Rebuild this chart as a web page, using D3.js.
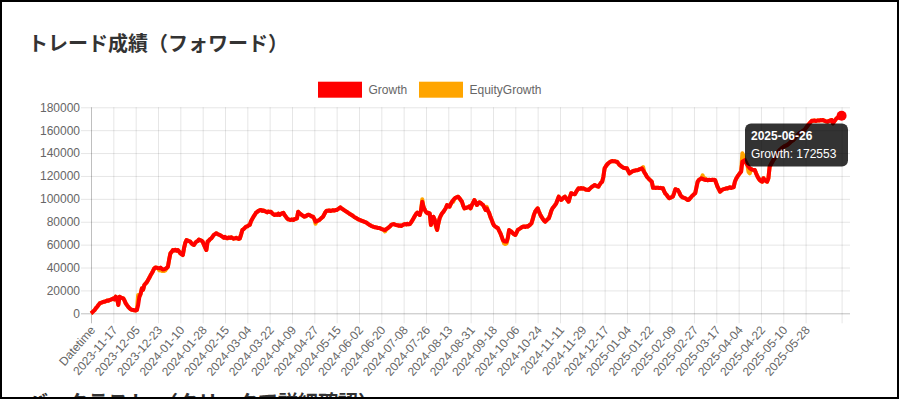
<!DOCTYPE html>
<html><head><meta charset="utf-8">
<script src="https://cdn.jsdelivr.net/npm/d3@7"></script>
<style>
html,body{margin:0;padding:0;background:#fff;}
svg{display:block;}
</style>
</head><body>
<svg id="chart" width="900" height="399"></svg>
<script>
// ---------- data ----------
const titleText = "トレード成績（フォワード）";
const nextHeading = "バックテスト　（クリックで詳細確認）";
const seriesNames = ["Growth", "EquityGrowth"];
const seriesColors = ["#ff0000", "#ffa500"];
const headerLabel = "Datetime";
const firstDate = "2023-10-31";
const lastDate = "2025-06-26";
const lastLabeledDate = "2025-05-28";
const labelStride = 18;
const yTicks = [0, 20000, 40000, 60000, 80000, 100000, 120000, 140000, 160000, 180000];

// Growth values in thousands, one per category (index 0 = "Datetime")
const growthK = [
0,0.8,1.9,2.9,4.5,5.8,7.2,8.7,9.2,9.6,
10.1,10.1,10.6,11.2,11.0,11.6,12.0,12.4,13.1,12.2,
14.5,13.0,7.3,14.5,13.8,13.4,13.1,11.2,8.7,7.1,
5.6,4.4,3.5,3.0,2.9,2.6,2.4,2.9,7.3,14.5,
17.0,21.8,20.5,24.7,26.0,27.2,29.1,31.0,33.2,35.0,
37.0,39.3,40.0,39.8,39.5,39.3,39.9,39.0,38.2,38.4,
39.0,39.6,40.7,47.0,52.4,53.6,55.3,54.8,55.5,54.6,
55.3,54.0,52.5,51.5,50.9,57.0,61.5,64.0,63.5,63.0,
62.6,61.0,60.2,59.7,61.5,62.6,63.0,64.5,64.0,63.6,
62.6,60.0,57.5,55.3,62.6,63.5,64.8,65.5,67.0,68.5,
69.2,69.9,69.3,68.8,68.4,67.5,66.9,66.0,66.8,65.8,
65.5,66.2,65.9,66.4,65.8,65.2,65.5,66.0,65.4,65.0,
65.5,69.0,72.8,73.5,74.6,75.7,76.0,76.8,77.2,80.5,
82.5,84.4,86.0,87.9,88.6,89.5,90.0,90.3,89.5,89.9,
89.2,88.8,88.2,89.0,88.5,88.8,87.5,86.5,85.9,86.4,
86.0,87.0,85.9,86.8,87.4,87.9,85.9,84.5,83.0,82.1,
81.8,81.6,82.0,81.5,82.2,82.6,83.0,88.8,87.5,86.6,
85.9,85.0,84.4,84.8,85.5,86.2,85.9,85.3,84.6,84.4,
82.5,80.0,80.6,81.0,81.5,82.5,83.5,84.4,86.5,88.5,
89.7,89.5,89.9,89.4,89.7,90.0,89.8,90.2,90.3,91.0,
91.8,92.6,91.5,90.9,90.2,89.4,88.8,88.0,87.3,86.5,
85.9,85.2,84.3,83.6,83.0,82.4,81.8,81.4,80.9,80.6,
80.0,79.6,79.2,78.4,77.6,77.0,76.3,75.8,75.5,75.1,
75.0,74.6,74.5,74.3,73.8,73.4,73.0,72.8,73.5,74.3,
75.1,76.0,77.2,77.6,78.0,77.5,77.2,77.0,76.5,76.8,
76.3,76.9,77.5,78.0,77.6,78.2,77.8,78.0,79.5,81.2,
83.0,85.0,86.8,87.9,87.0,85.9,90.0,97.5,93.1,90.5,
88.6,87.4,87.8,87.4,77.2,80.5,84.4,82.0,76.5,72.8,
78.5,83.0,85.5,87.4,88.6,90.3,92.0,94.6,93.8,93.1,
95.5,97.5,99.0,100.2,101.0,101.5,101.9,100.5,99.0,97.5,
94.0,91.7,92.0,92.4,92.6,93.5,91.7,94.6,96.5,99.0,
97.0,94.6,95.8,97.0,96.5,95.5,94.6,92.5,90.3,91.7,
89.5,87.4,84.0,81.5,78.5,76.5,75.7,75.0,74.3,72.0,
69.9,67.0,64.0,63.0,62.8,62.6,66.0,72.8,72.0,71.3,
70.0,69.0,68.4,70.5,72.8,73.5,74.2,75.0,75.7,75.9,
75.4,76.0,75.7,76.6,77.5,78.6,82.0,86.0,88.8,90.5,
91.7,89.0,86.5,84.4,82.8,81.2,80.0,81.0,82.2,83.0,
86.0,89.5,91.8,93.1,94.5,96.1,99.0,101.9,100.5,99.0,
100.0,101.2,101.9,100.5,99.0,97.5,101.5,104.9,104.5,104.2,
104.0,106.0,107.8,109.2,108.8,109.4,108.9,109.2,108.5,108.0,
107.9,107.7,108.8,109.8,110.6,111.4,112.1,111.5,111.0,110.6,
112.5,114.0,115.0,119.4,126.7,128.5,130.0,131.1,132.0,132.6,
133.1,132.8,132.9,132.5,132.5,131.0,129.6,128.8,128.0,127.2,
127.0,126.8,126.7,124.5,122.3,123.0,123.8,124.3,124.6,124.9,
125.0,125.2,125.8,126.3,126.7,125.0,123.2,121.5,119.4,118.2,
117.0,116.0,115.0,109.7,109.9,109.5,109.8,109.7,109.4,109.6,
109.3,109.2,106.5,104.5,103.4,101.8,100.5,100.8,101.5,101.9,
105.0,108.4,108.0,107.7,106.0,103.5,101.9,101.2,100.8,100.5,
99.6,99.0,99.4,100.6,101.9,103.0,104.0,104.9,110.0,115.0,
116.5,117.3,118.0,117.5,117.0,116.5,116.8,116.3,116.6,116.5,
116.4,116.8,116.6,116.5,113.5,110.6,108.5,106.3,107.2,108.0,
108.4,108.8,109.2,109.0,109.6,110.1,109.5,110.0,110.1,115.0,
117.5,119.4,121.0,122.5,123.7,132.5,133.2,133.9,131.5,129.6,
128.0,126.7,126.0,125.5,125.3,125.2,122.5,120.0,118.0,116.5,
115.5,115.0,118.0,116.5,115.5,115.0,118.0,128.0,130.0,132.0,
133.9,135.5,137.2,139.0,141.0,142.7,143.5,144.5,145.3,146.0,
146.5,147.0,147.8,148.6,149.8,150.6,151.4,152.5,153.8,155.0,
156.2,157.3,158.0,158.8,159.5,160.2,161.6,163.0,164.5,165.8,
167.0,168.3,168.2,168.5,168.1,168.3,168.6,168.4,168.8,168.7,
168.9,168.3,167.8,167.6,167.4,168.2,168.6,168.9,166.0,167.5,
169.0,170.4,171.2,172.0,172.3,172.553
];

// EquityGrowth equals Growth except where the orange line shows (index, value in thousands)
const equityDiffIndex = [38, 55, 56, 57, 58, 59, 60, 181, 237, 267, 278, 292, 319, 333, 334, 335, 445, 493, 495, 525, 526, 530, 531];
const equityDiffK     = [16.0, 37.5, 37.8, 37.0, 37.2, 37.0, 37.5, 78.3, 71.5, 99.6, 75.5, 97.5, 93.0, 61.0, 60.5, 61.2, 127.8, 120.5, 118.0, 139.8, 137.5, 123.5, 122.3];

(function () {
// ---------- build ----------
const parseDay = d3.utcParse("%Y-%m-%d");
const fmtDay = d3.utcFormat("%Y-%m-%d");
const days = d3.utcDay.range(parseDay(firstDate), d3.utcDay.offset(parseDay(lastDate), 1));
const categories = [headerLabel].concat(days.map(fmtDay));
const growth = growthK.map(v => Math.round(v * 1000));
const equity = growth.slice();
equityDiffIndex.forEach((idx, k) => { equity[idx] = Math.round(equityDiffK[k] * 1000); });

const svg = d3.select("#chart");
const pLeft = 91, pRight = 850, pTop = 107.3, pBottom = 313.3;
const lastIdx = categories.length - 1;
const lastLabelIdx = categories.indexOf(lastLabeledDate);

const x = d3.scalePoint().domain(d3.range(categories.length)).range([pLeft, 841.6]);
const y = d3.scaleLinear().domain([0, 180000]).range([pBottom, pTop]);

svg.append("rect").attr("x", 0).attr("y", 0).attr("width", 900).attr("height", 399).attr("fill", "#fff");

// title
svg.append("text").attr("x", 28).attr("y", 51)
  .attr("font-family", "'Noto Sans CJK JP', sans-serif").attr("font-weight", "bold")
  .attr("font-size", 20).attr("fill", "#333").text(titleText);

// next heading (cut off at bottom edge, as in the page)
svg.append("text").attr("x", 28).attr("y", 410)
  .attr("font-family", "'Noto Sans CJK JP', sans-serif").attr("font-weight", "bold")
  .attr("font-size", 20).attr("fill", "#333").text(nextHeading);

// legend
const legendX = [320, 421];
seriesNames.forEach((name, k) => {
  svg.append("rect").attr("x", legendX[k]).attr("y", 83.7).attr("width", 40).attr("height", 12)
    .attr("fill", seriesColors[k]).attr("stroke", seriesColors[k]).attr("stroke-width", 4);
  svg.append("text").attr("x", legendX[k] + 48.5).attr("y", 94)
    .attr("font-family", "'Liberation Sans', Arial, sans-serif").attr("font-size", 12)
    .attr("fill", "#666").text(name);
});

// y axis + horizontal grid
const yAxis = d3.axisLeft(y).tickValues(yTicks).tickSizeInner(-(pRight - pLeft)).tickSizeOuter(0).tickPadding(11)
  .tickFormat(d => String(d));
const gy = svg.append("g").attr("transform", `translate(${pLeft},0)`).call(yAxis);
gy.select(".domain").remove();
gy.selectAll(".tick line").attr("x1", -10).attr("x2", pRight - pLeft)
  .attr("stroke", d => d === 0 ? "rgba(0,0,0,0.25)" : "rgba(0,0,0,0.1)").attr("stroke-width", 1);
gy.selectAll(".tick text").attr("font-family", "'Liberation Sans', Arial, sans-serif")
  .attr("font-size", 12).attr("fill", "#666");

// x axis + vertical grid
const shown = d3.range(0, lastLabelIdx + 1, labelStride).concat([lastIdx]);
const xAxis = d3.axisBottom(x).tickValues(shown).tickSizeOuter(0)
  .tickFormat(i => i === lastIdx ? "" : categories[i]);
const gx = svg.append("g").attr("transform", `translate(0,${pBottom})`).call(xAxis);
gx.select(".domain").remove();
gx.selectAll(".tick line").attr("y1", -(pBottom - pTop)).attr("y2", 10)
  .attr("stroke", d => d === 0 ? "rgba(0,0,0,0.25)" : "rgba(0,0,0,0.1)").attr("stroke-width", 1);
gx.selectAll(".tick text")
  .attr("font-family", "'Liberation Sans', Arial, sans-serif").attr("font-size", 12).attr("fill", "#666")
  .attr("text-anchor", "end").attr("dy", null).attr("y", null)
  .attr("dominant-baseline", "middle")
  .attr("transform", "translate(2,15) rotate(-49)");

// lines
const line = d3.line().x((d, i) => x(i)).y(d => y(d));
svg.append("path").datum(equity).attr("d", line).attr("fill", "none")
  .attr("stroke", seriesColors[1]).attr("stroke-width", 4).attr("stroke-linejoin", "round");
svg.append("path").datum(growth).attr("d", line).attr("fill", "none")
  .attr("stroke", seriesColors[0]).attr("stroke-width", 4).attr("stroke-linejoin", "round");

// hovered point
svg.append("circle").attr("cx", x(lastIdx)).attr("cy", y(growth[lastIdx])).attr("r", 5)
  .attr("fill", seriesColors[0]);

// tooltip
const tipX = 745, tipY = 123.5;
svg.append("rect").attr("x", tipX).attr("y", tipY).attr("width", 103).attr("height", 43).attr("rx", 6)
  .attr("fill", "rgba(0,0,0,0.8)");
svg.append("text").attr("x", tipX + 6).attr("y", tipY + 16)
  .attr("font-family", "'Liberation Sans', Arial, sans-serif").attr("font-size", 12).attr("font-weight", "bold")
  .attr("fill", "#fff").text(categories[lastIdx]);
svg.append("text").attr("x", tipX + 6).attr("y", tipY + 34.5)
  .attr("font-family", "'Liberation Sans', Arial, sans-serif").attr("font-size", 12)
  .attr("fill", "#fff").text(`${seriesNames[0]}: ${growth[lastIdx]}`);

// frame
svg.append("rect").attr("x", 1).attr("y", 1).attr("width", 897).attr("height", 397)
  .attr("fill", "none").attr("stroke", "#000").attr("stroke-width", 2);
})();
</script>
</body></html>
